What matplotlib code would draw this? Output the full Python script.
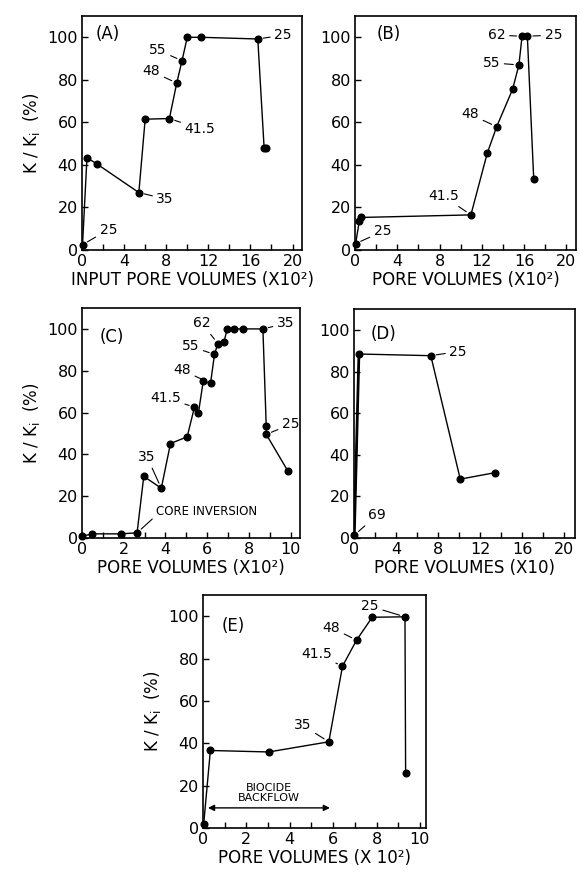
import numpy as np
import matplotlib
matplotlib.use("Agg")
import matplotlib.pyplot as plt
from matplotlib.ticker import MultipleLocator

plt.rcParams['font.family'] = ['DejaVu Sans']

# (A) input pore volumes (x10^2) vs K/Ki (%)
xa = [0.05, 0.47, 1.4, 5.4, 6.0, 8.3, 9.0, 9.5, 10.0, 11.3, 16.7, 17.3, 17.5]
ya = [2.5, 43.4, 40.5, 27, 61.5, 61.8, 78.5, 89, 100, 100, 99.2, 48, 48]
# label text, index of point, text position
labels_a = [("25", 0, 2.5, 9.5), ("35", 3, 7.9, 24), ("41.5", 5, 11.2, 57),
            ("48", 6, 6.6, 84), ("55", 7, 7.2, 94), ("25", 10, 19.1, 101)]

# (B)
xb = [0.06, 0.4, 0.6, 10.96, 12.5, 13.4, 14.9, 15.5, 15.8, 16.3, 16.9]
yb = [3, 13.4, 15.3, 16.5, 45.4, 58, 75.5, 87, 100.5, 100.5, 33.5]
labels_b = [("25", 0, 2.6, 8.7), ("41.5", 3, 8.35, 25.4), ("48", 5, 10.9, 63.7),
            ("55", 7, 12.9, 88), ("62", 8, 13.4, 101), ("25", 9, 18.75, 101)]

# (C)
xc = [0.0, 0.48, 1.87, 2.64, 2.96, 3.8, 4.24, 5.04, 5.39, 5.58, 5.81, 6.16,
      6.35, 6.51, 6.8, 6.96, 7.28, 7.72, 8.67, 8.83, 8.83, 9.87]
yc = [0.8, 2, 2, 2.5, 29.5, 23.8, 45.2, 48.4, 62.6, 59.8, 75, 74,
      87.8, 93, 93.6, 100, 100, 100, 100, 53.5, 49.6, 32]
labels_c = [("35", 5, 3.12, 38.7),
            ("41.5", 8, 4.0, 67), ("48", 11, 4.8, 80.3), ("55", 12, 5.2, 91.7),
            ("62", 13, 5.76, 102.6), ("35", 18, 9.76, 102.6), ("25", 20, 10.0, 54.3)]
core_label = ("CORE INVERSION", 3, 3.55, 12.6)

# (D)
xd = [0.03, 0.47, 7.3, 10.1, 13.4]
yd = [1.4, 88.4, 87.6, 28.3, 31.4]
labels_d = [("69", 0, 2.2, 11), ("25", 2, 9.9, 89.6)]

# (E)
xe = [0.03, 0.34, 3.03, 5.8, 6.43, 7.08, 7.8, 9.31, 9.34]
ye = [1.7, 36.6, 35.9, 40.7, 76.4, 88.7, 99.5, 99.7, 26.2]
labels_e = [("35", 3, 4.6, 48.4), ("41.5", 4, 5.23, 82.1), ("48", 5, 5.92, 94.6),
            ("25", 7, 7.7, 104.7)]
backflow_x = [0.23, 5.85]
backflow_y = 9.5

fig = plt.figure(figsize=(5.8, 8.75), dpi=100)


def panel(rect, x, y, labels, letter, letter_pos, xlabel, xmax, major, minor, ylabel=True):
    ax = fig.add_axes(rect)
    ax.plot(x, y, color='black', lw=1.0, marker='o', ms=4.8, clip_on=False, zorder=3)
    for txt, i, tx, ty in labels:
        ax.annotate(txt, xy=(x[i], y[i]), xytext=(tx, ty), fontsize=10,
                    ha='center', va='center',
                    arrowprops=dict(arrowstyle='-', lw=0.8, color='black',
                                    shrinkA=1, shrinkB=4))
    ax.text(letter_pos[0], letter_pos[1], letter, fontsize=12, ha='left', va='center')
    ax.set_xlim(0, xmax)
    ax.set_ylim(0, 110)
    ax.xaxis.set_major_locator(MultipleLocator(major))
    ax.xaxis.set_minor_locator(MultipleLocator(minor))
    ax.set_yticks([0, 20, 40, 60, 80, 100])
    ax.tick_params(axis='both', which='both', direction='in', length=4.5, width=1,
                   labelsize=11.5, pad=3)
    ax.tick_params(axis='x', which='minor', labelbottom=False)
    for s in ax.spines.values():
        s.set_linewidth(1.2)
    ax.set_xlabel(xlabel, fontsize=12, labelpad=1)
    if ylabel:
        ax.set_ylabel('K / K$_\\mathregular{i}$  (%)', fontsize=12, labelpad=4)
    return ax


panel([0.1414, 0.7143, 0.3793, 0.2674], xa, ya, labels_a, "(A)", (1.3, 101.5),
      "INPUT PORE VOLUMES (X10²)", 20.9, 4, 2)
panel([0.6121, 0.7143, 0.381, 0.2674], xb, yb, labels_b, "(B)", (2.0, 101.5),
      "PORE VOLUMES (X10²)", 20.9, 4, 2, ylabel=False)
axc = panel([0.1414, 0.3851, 0.3759, 0.2629], xc, yc, labels_c, "(C)", (0.85, 96),
            "PORE VOLUMES (X10²)", 10.45, 2, 1)
txt, i, tx, ty = core_label
axc.annotate(txt, xy=(xc[i], yc[i]), xytext=(tx, ty), fontsize=8.5,
             ha='left', va='center',
             arrowprops=dict(arrowstyle='-', lw=0.8, color='black',
                             relpos=(0, 0.2), shrinkA=1, shrinkB=4))
axd = panel([0.6103, 0.3851, 0.381, 0.2617], xd, yd, labels_d, "(D)", (1.6, 98),
            "PORE VOLUMES (X10)", 21.0, 4, 2, ylabel=False)
axd.plot(xd[:2], yd[:2], color='black', lw=2.0, zorder=3)
axe = panel([0.35, 0.0537, 0.3845, 0.2663], xe, ye, labels_e, "(E)", (0.85, 95.5),
            "PORE VOLUMES (X 10²)", 10.28, 2, 1)
axe.annotate('', xy=(backflow_x[0], backflow_y), xytext=(backflow_x[1], backflow_y),
             arrowprops=dict(arrowstyle='<|-|>', lw=1.0, color='black',
                             shrinkA=0, shrinkB=0, mutation_scale=9))
axe.text(sum(backflow_x) / 2, 16.6, "BIOCIDE\nBACKFLOW", fontsize=8,
         ha='center', va='center', linespacing=1.0)

fig.savefig("out.png", dpi=100)
